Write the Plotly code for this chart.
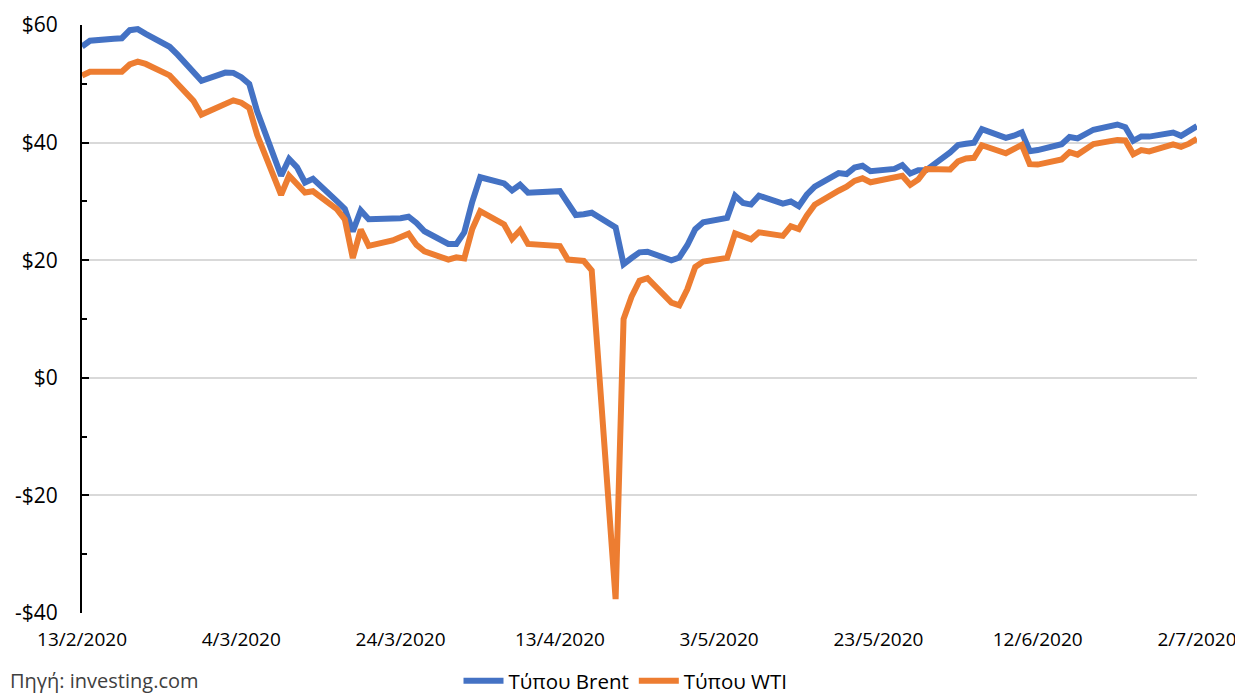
import plotly.graph_objects as go

# Trading dates (Feb 13 2020 - Jul 2 2020)
dates = (
    ["2020-02-%02d" % d for d in [13, 14, 17, 18, 19, 20, 21, 24, 25, 26, 27, 28]]
    + ["2020-03-%02d" % d for d in [2, 3, 4, 5, 6, 9, 10, 11, 12, 13, 16, 17, 18, 19, 20, 23, 24, 25, 26, 27, 30, 31]]
    + ["2020-04-%02d" % d for d in [1, 2, 3, 6, 7, 8, 9, 13, 14, 15, 16, 17, 20, 21, 22, 23, 24, 27, 28, 29, 30]]
    + ["2020-05-%02d" % d for d in [1, 4, 5, 6, 7, 8, 11, 12, 13, 14, 15, 18, 19, 20, 21, 22, 25, 26, 27, 28, 29]]
    + ["2020-06-%02d" % d for d in [1, 2, 3, 4, 5, 8, 9, 10, 11, 12, 15, 16, 17, 18, 19, 22, 23, 24, 25, 26, 29, 30]]
    + ["2020-07-%02d" % d for d in [1, 2]]
)

brent = [
    56.34, 57.32, 57.67, 57.75, 59.12, 59.31, 58.50, 56.30, 54.95, 53.43, 52.18, 50.52,
    51.90, 51.86, 51.13, 49.99, 45.27, 34.36, 37.22, 35.79, 33.22, 33.85, 30.05, 28.73,
    24.88, 28.47, 26.98, 27.03, 27.15, 27.39, 26.34, 24.93, 22.76, 22.74,
    24.74, 29.94, 34.11, 33.05, 31.87, 32.84, 31.48, 31.74, 29.60, 27.69, 27.82, 28.08,
    25.57, 19.33, 20.37, 21.33, 21.44, 19.99, 20.46, 22.54, 25.27,
    26.44, 27.20, 30.97, 29.72, 29.46, 30.97, 29.63, 29.98, 29.19, 31.13, 32.50, 34.81,
    34.65, 35.75, 36.06, 35.13, 35.53, 36.17, 34.74, 35.29, 35.33,
    38.32, 39.57, 39.79, 39.99, 42.30, 40.80, 41.18, 41.73, 38.55, 38.73, 39.72, 40.96,
    40.71, 41.51, 42.19, 43.08, 42.63, 40.31, 41.05, 41.02, 41.71, 41.15,
    42.03, 42.80,
]

wti = [
    51.42, 52.05, None, 52.05, 53.29, 53.78, 53.38, 51.43, 49.90, 48.73, 47.09, 44.76,
    46.75, 47.18, 46.78, 45.90, 41.28, 31.13, 34.36, 32.98, 31.50, 31.73, 28.70, 26.95,
    20.37, 25.22, 22.43, 23.36, 24.01, 24.49, 22.60, 21.51, 20.09, 20.48,
    20.31, 25.32, 28.34, 26.08, 23.63, 25.09, 22.76, 22.41, 20.11, 19.87, 19.87, 18.27,
    -37.63, 10.01, 13.78, 16.50, 16.94, 12.78, 12.34, 15.06, 18.84,
    19.78, 20.39, 24.56, 23.99, 23.55, 24.74, 24.14, 25.78, 25.29, 27.56, 29.43, 31.82,
    32.50, 33.49, 33.92, 33.25, None, 34.35, 32.81, 33.71, 35.49,
    35.44, 36.81, 37.29, 37.41, 39.55, 38.19, 38.94, 39.60, 36.34, 36.26, 37.12, 38.38,
    37.96, 38.84, 39.75, 40.46, 40.37, 38.01, 38.72, 38.49, 39.70, 39.27,
    39.82, 40.65,
]

x_tick_vals = ["2020-02-13", "2020-03-04", "2020-03-24", "2020-04-13",
               "2020-05-03", "2020-05-23", "2020-06-12", "2020-07-02"]
x_tick_text = ["13/2/2020", "4/3/2020", "24/3/2020", "13/4/2020",
               "3/5/2020", "23/5/2020", "12/6/2020", "2/7/2020"]
y_tick_vals = [-40, -20, 0, 20, 40, 60]
y_tick_text = ["-$40", "-$20", "$0", "$20", "$40", "$60"]

series_names = ["Τύπου Brent", "Τύπου WTI"]
source_text = "Πηγή: investing.com"

FONT = "Open Sans, Noto Sans, sans-serif"

fig = go.Figure()
fig.add_trace(go.Scatter(x=dates, y=brent, mode="lines", name=series_names[0],
                         line=dict(color="#4472C4", width=6), connectgaps=True))
fig.add_trace(go.Scatter(x=dates, y=wti, mode="lines", name=series_names[1],
                         line=dict(color="#ED7D31", width=6), connectgaps=True))

fig.update_layout(
    width=1235, height=688,
    margin=dict(l=74, r=46, t=17, b=83),
    paper_bgcolor="white", plot_bgcolor="white",
    font=dict(family=FONT, size=20, color="#000000"),
    showlegend=True,
    legend=dict(orientation="h", xref="container", yref="container",
                x=0.5, xanchor="center", y=0.022, yanchor="middle",
                font=dict(size=20.5), itemwidth=40, tracegroupgap=0),
    xaxis=dict(type="date", range=["2020-02-13", "2020-07-02"], automargin=False,
               tickvals=x_tick_vals, ticktext=x_tick_text,
               showgrid=False, zeroline=False, showline=False,
               ticks="", ticklabelstandoff=13,
               tickfont=dict(size=19)),
    yaxis=dict(range=[-40, 60], tickvals=y_tick_vals, ticktext=y_tick_text, automargin=False,
               showgrid=True, gridcolor="#d9d9d9", gridwidth=1.5,
               zeroline=False, showline=True, linecolor="#000000", linewidth=2,
               ticks="inside", ticklen=7, tickwidth=2, tickcolor="#000000",
               minor=dict(dtick=10, tick0=-40, ticks="inside", ticklen=5,
                          tickwidth=2, tickcolor="#000000", showgrid=False),
               ticklabelstandoff=18, tickfont=dict(size=21)),
    annotations=[dict(text=source_text, xref="paper", yref="paper",
                      x=-0.0664, xanchor="left", y=-0.115, yanchor="middle",
                      showarrow=False, font=dict(size=20, color="#404040"))],
)

fig.write_html("out.html")
